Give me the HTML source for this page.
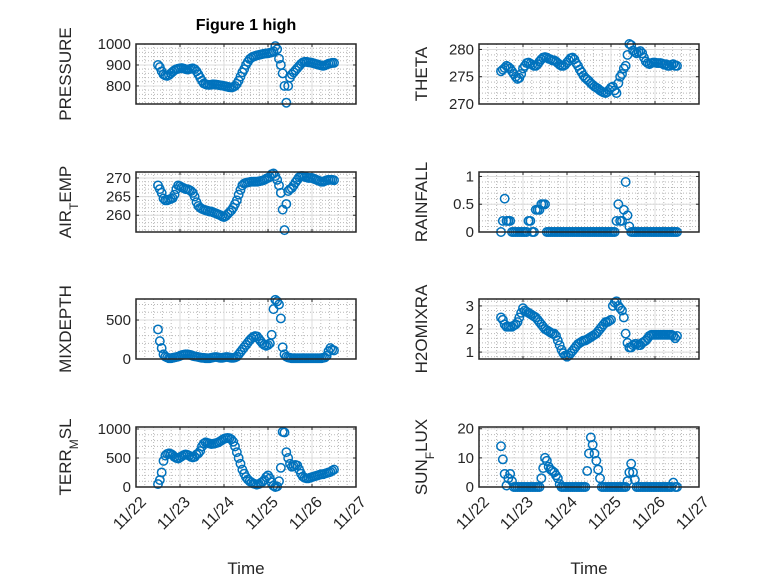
<!DOCTYPE html>
<html><head><meta charset="utf-8"><style>
html,body{margin:0;padding:0;background:#fff;}
svg{display:block;font-family:"Liberation Sans","DejaVu Sans",sans-serif;}
</style></head><body>
<svg id="fig" width="778" height="583" viewBox="0 0 778 583" xmlns="http://www.w3.org/2000/svg">
<rect width="778" height="583" fill="#fff"/>
<text x="246" y="30" text-anchor="middle" font-size="16" font-weight="bold" fill="#000">Figure 1 high</text>
</svg>
<script>
const dayTicks = ["11/22","11/23","11/24","11/25","11/26","11/27"];
const startDay = 0.5;
const pressure = [900,890,870,855,850,848,852,860,868,875,880,882,
884,885,883,880,878,880,882,884,880,870,855,840,
825,812,808,806,805,806,808,807,806,805,803,802,
800,798,796,794,793,795,800,810,825,845,865,880,
900,915,928,935,940,943,946,948,950,952,954,955,
956,958,960,965,990,975,930,900,860,800,720,800,
840,855,865,875,885,895,905,912,915,915,913,912,
910,908,905,903,900,898,896,898,902,906,908,910,910];
const theta = [276,276.3,276.6,277,276.8,276.5,276,275.5,275,274.6,274.8,275.5,
276.5,277,277.5,277.6,277.4,277.2,277,277,277.3,277.8,278.2,278.5,
278.6,278.5,278.3,278.2,278,278,277.8,277.5,277.2,277,277,277.2,
277.6,278,278.4,278.5,278.2,277.5,277,276.3,275.8,275.2,274.8,274.5,
274.2,273.8,273.5,273.2,273,272.8,272.5,272.3,272.1,272,272.2,272.6,
273,273.2,272.5,272,273.8,275,275.5,276.5,277,279,281,280.8,
279.8,279.5,279.3,279.5,279.7,279.3,278.5,277.8,277.5,277.3,277.5,277.6,
277.6,277.5,277.5,277.5,277.4,277.2,277.3,277,277,277.2,277.3,277,277];
const airTemp = [268,267,266,264.5,264,264,264.2,264.4,264.6,265.5,267,268,
267.8,267.5,267.3,267,267,266.8,266.5,266,265,263.5,262.5,262,
261.7,261.5,261.3,261.2,261,261,260.8,260.6,260.4,260.2,260,259.7,
259.5,259.8,260.3,260.8,261.3,262,263,264,265.5,266.8,268,268.5,
268.7,268.8,268.9,269,269,269,269,269.1,269.2,269.3,269.5,269.8,
270,270.3,271,271.2,270.5,269.5,268,266,261.5,256,263,266.5,
267,267.3,268,268.8,269.5,270.2,270.5,270.5,270.3,270.2,270,270,
270,269.8,269.6,269.4,269.2,269,269,269.2,269.4,269.5,269.5,269.5,269.4];
const rainfall = [0,0.2,0.6,0.2,0.2,0.2,0,0,0,0,0,0,
0,0,0,0.2,0.2,0,0,0.4,0.4,0.4,0.5,0.5,
0.5,0,0,0,0,0,0,0,0,0,0,0,
0,0,0,0,0,0,0,0,0,0,0,0,
0,0,0,0,0,0,0,0,0,0,0,0,
0,0,0,0.2,0.5,0.2,0.2,0.4,0.9,0.3,0.1,0,
0,0,0,0,0,0,0,0,0,0,0,0,
0,0,0,0,0,0,0,0,0,0,0,0,0];
const mixDepth = [380,230,140,60,30,20,10,10,15,20,25,30,
40,50,55,60,60,55,50,40,35,30,25,20,
15,15,10,10,10,15,20,25,25,20,15,15,
20,25,25,20,15,15,20,30,60,90,120,150,
180,210,240,265,285,295,290,260,230,200,180,170,
180,200,310,640,760,740,700,520,150,60,30,20,
15,10,10,10,10,10,10,10,10,10,10,10,
10,10,10,10,10,10,15,20,40,100,140,120,110];
const h2oMix = [2.5,2.4,2.2,2.1,2.1,2.1,2.1,2.15,2.2,2.3,2.5,2.7,
2.9,2.8,2.75,2.7,2.65,2.6,2.55,2.5,2.4,2.3,2.2,2.1,
2.0,1.95,1.9,1.85,1.8,1.8,1.7,1.5,1.3,1.1,0.95,0.85,
0.8,0.85,0.95,1.05,1.15,1.25,1.35,1.4,1.45,1.5,1.5,1.55,
1.6,1.65,1.7,1.75,1.8,1.9,2.0,2.1,2.2,2.3,2.3,2.35,
2.4,3.0,3.15,3.2,3.0,2.9,2.8,2.5,1.8,1.4,1.2,1.2,
1.3,1.35,1.35,1.3,1.3,1.4,1.45,1.5,1.6,1.7,1.75,1.75,
1.75,1.75,1.75,1.75,1.75,1.75,1.75,1.75,1.75,1.75,1.7,1.6,1.7];
const terrMsl = [50,120,250,450,540,570,580,570,550,520,500,490,
510,530,550,560,555,540,520,510,520,560,580,620,
700,750,770,760,750,740,745,750,760,770,790,810,
830,840,845,840,820,780,700,600,500,400,300,230,
170,130,100,80,60,50,40,50,70,90,120,170,
200,150,80,20,0,10,100,330,950,940,600,500,
400,350,360,380,370,300,230,180,160,150,150,160,
170,180,190,200,210,220,220,230,240,250,260,280,300];
const sunFlux = [14,9.5,4.5,0.5,3,4.5,2,0,0,0,0,0,
0,0,0,0,0,0,0,0,0,0,3,6.5,
10,9,7,6,5.5,5,4,3,1,0,0,0,
0,0,0,0,0,0,0,0,0,0,0,5.5,
11.5,17,14.5,11.5,9,6,3,0,0,0,0,0,
0,0,0,0,0,0,0,0,0,2,5,8,
5,2.5,0,0,0,0,0,0,0,0,0,0,
0,0,0,0,0,0,0,0,0,0,1.5,0,0];
const pressureTicks=[800,900,1000], thetaTicks=[270,275,280], airTicks=[260,265,270], rainTicks=[0,0.5,1],
      mixTicks=[0,500], h2oTicks=[1,2,3], terrTicks=[0,500,1000], sunTicks=[0,10,20];

const NS="http://www.w3.org/2000/svg";
const svg=document.getElementById('fig');
function mk(tag,attrs,parent){const e=document.createElementNS(NS,tag);for(const k in attrs)e.setAttribute(k,attrs[k]);(parent||svg).appendChild(e);return e;}

const panels=[
 {name:'pressure',data:pressure,ticks:pressureTicks,ylim:[714,1000],x:136,y:44,label:['PRESSURE']},
 {name:'theta',data:theta,ticks:thetaTicks,ylim:[270,281],x:479,y:44,label:['THETA']},
 {name:'air-temp',data:airTemp,ticks:airTicks,ylim:[255.5,271.6],x:136,y:172,label:['AIR','T','EMP']},
 {name:'rainfall',data:rainfall,ticks:rainTicks,ylim:[0,1.08],x:479,y:172,label:['RAINFALL']},
 {name:'mixdepth',data:mixDepth,ticks:mixTicks,ylim:[0,770],x:136,y:299,label:['MIXDEPTH']},
 {name:'h2omixra',data:h2oMix,ticks:h2oTicks,ylim:[0.7,3.3],x:479,y:299,label:['H2OMIXRA']},
 {name:'terr-msl',data:terrMsl,ticks:terrTicks,ylim:[0,1034],x:136,y:427,label:['TERR','M','SL']},
 {name:'sun-flux',data:sunFlux,ticks:sunTicks,ylim:[0,20.6],x:479,y:427,label:['SUN','F','LUX']}
];
const W=220,H=60;
panels.forEach((p,pi)=>{
  const g=mk('g',{});
  
  
  const xs=d=>p.x+d/5*W;
  const ys=v=>p.y+H-(v-p.ylim[0])/(p.ylim[1]-p.ylim[0])*H;
  for(let k=0;k<25;k++){if(k%5===0)continue;const xx=xs(k/5);
    mk('line',{x1:xx,x2:xx,y1:p.y,y2:p.y+H,stroke:'#b8b8b8','stroke-width':1,'stroke-dasharray':'1 2'},g);}
  const step=p.ticks.length>1?(p.ticks[1]-p.ticks[0]):1;
  for(let v=p.ticks[0]-step;v<=p.ylim[1];v+=step/5){if(v<p.ylim[0])continue;
    const yy=ys(v);mk('line',{x1:p.x,x2:p.x+W,y1:yy,y2:yy,stroke:'#b8b8b8','stroke-width':1,'stroke-dasharray':'1 2'},g);}
  for(let k=1;k<5;k++){const xx=xs(k);mk('line',{x1:xx,x2:xx,y1:p.y,y2:p.y+H,stroke:'#dcdcdc','stroke-width':1},g);}
  p.ticks.forEach(v=>{const yy=ys(v);mk('line',{x1:p.x,x2:p.x+W,y1:yy,y2:yy,stroke:'#dcdcdc','stroke-width':1},g);
    mk('line',{x1:p.x,x2:p.x+3,y1:yy,y2:yy,stroke:'#262626','stroke-width':1},g);
    mk('line',{x1:p.x+W-3,x2:p.x+W,y1:yy,y2:yy,stroke:'#262626','stroke-width':1},g);
    const t=mk('text',{x:p.x-5,y:yy+5,'text-anchor':'end','font-size':15,fill:'#262626'},g);
    
    
    t.textContent=String(v);});
  for(let k=1;k<5;k++){const xx=xs(k);
    mk('line',{x1:xx,x2:xx,y1:p.y+H-3,y2:p.y+H,stroke:'#262626','stroke-width':1},g);
    mk('line',{x1:xx,x2:xx,y1:p.y,y2:p.y+3,stroke:'#262626','stroke-width':1},g);}
  p.data.forEach((v,i)=>{const d=startDay+i/24;
    const c=mk('circle',{cx:xs(d),cy:ys(v),r:4.2,fill:'none',stroke:'#0072BD','stroke-width':1.5},g);
    
    });
  mk('rect',{x:p.x,y:p.y,width:W,height:H,fill:'none',stroke:'#262626','stroke-width':1.5},g);
  const ly=p.y+H/2;
  const t=mk('text',{x:0,y:0,transform:`translate(${pi%2===0?71:427},${ly}) rotate(-90)`,'text-anchor':'middle','font-size':17,fill:'#262626'},g);
  
  
  if(p.label.length===1){t.textContent=p.label[0];}
  else{const a=mk('tspan',{},t);a.textContent=p.label[0];
    const b=mk('tspan',{'baseline-shift':'sub','font-size':12},t);b.textContent=p.label[1];
    const c=mk('tspan',{},t);c.textContent=p.label[2];}
  if(pi>=6){
    dayTicks.forEach((lab,k)=>{const xx=xs(k);
      const tt=mk('text',{x:0,y:0,transform:`translate(${xx+11},${p.y+H+16}) rotate(-45)`,'text-anchor':'end','font-size':16,fill:'#262626'},g);
      
      
      tt.textContent=lab;});
    const xl=mk('text',{x:p.x+W/2,y:574,'text-anchor':'middle','font-size':17,fill:'#262626'},g);
    
    
    xl.textContent='Time';
  }
});
</script>
</body></html>
